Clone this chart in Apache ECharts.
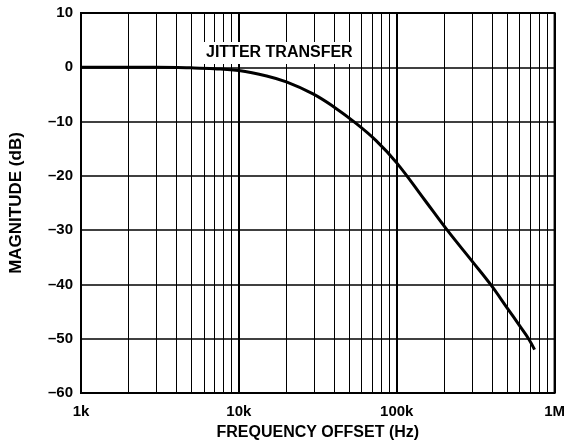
<!DOCTYPE html>
<html>
<head>
<meta charset="utf-8">
<script src="https://cdn.jsdelivr.net/npm/echarts@6/dist/echarts.min.js"></script>
<style>
html,body{margin:0;padding:0;background:#fff;}
#c{width:568px;height:448px;}
</style>
</head>
<body>
<div id="c"></div>
<script>
// Data
const freqHz = [1000, 2000, 3000, 5000, 7000, 10000, 15000, 20000, 29500, 40000, 54000, 74000, 100000, 150000, 209000, 300000, 393000, 500000, 600000, 684000, 747000];
const magnitudeDb = [0, 0, 0, -0.1, -0.25, -0.6, -1.6, -2.7, -4.9, -7.3, -10.1, -13.5, -17.6, -24.4, -30, -35.7, -40, -44.3, -47.6, -50, -52];
const xTickValues = [1000, 10000, 100000, 1000000];
const xTickLabels = ['1k', '10k', '100k', '1M'];
const minorGridValues = [2000,3000,4000,5000,6000,7000,8000,9000,20000,30000,40000,50000,60000,70000,80000,90000,200000,300000,400000,500000,600000,700000,800000,900000];
const seriesName = 'JITTER TRANSFER';

const FONT = '"Liberation Sans", Arial, sans-serif';
const chart = echarts.init(document.getElementById('c'), null, {renderer: 'canvas'});
chart.setOption({
  animation: false,
  backgroundColor: '#fff',
  grid: {left: 80, right: 12, top: 13, bottom: 55, show: true, borderColor: '#000', borderWidth: 2, backgroundColor: 'transparent', z: 3},
  xAxis: {
    type: 'log', logBase: 10, min: 1000, max: 1000000,
    name: 'FREQUENCY OFFSET (Hz)', nameLocation: 'middle', nameGap: 32,
    nameTextStyle: {fontFamily: FONT, fontWeight: 'bold', fontSize: 16, color: '#000'},
    axisLine: {show: false}, axisTick: {show: false},
    axisLabel: {fontFamily: FONT, fontWeight: 'bold', fontSize: 15, color: '#000', margin: 11,
      formatter: v => { const i = xTickValues.indexOf(Math.round(v)); return i >= 0 ? xTickLabels[i] : ''; }},
    splitLine: {show: true, lineStyle: {color: '#000', width: 2}},
    minorTick: {show: false}, minorSplitLine: {show: false}
  },
  yAxis: {
    type: 'value', min: -60, max: 10, interval: 10,
    name: 'MAGNITUDE (dB)', nameLocation: 'middle', nameGap: 56, nameRotate: 90,
    nameTextStyle: {fontFamily: FONT, fontWeight: 'bold', fontSize: 17, color: '#000'},
    axisLine: {show: false}, axisTick: {show: false},
    axisLabel: {fontFamily: FONT, fontWeight: 'bold', fontSize: 15, color: '#000', margin: 8,
      formatter: v => v < 0 ? '\u2013' + Math.abs(v) : String(v)},
    splitLine: {show: true, lineStyle: {color: '#000', width: 1.5}}
  },
  graphic: [{
    type: 'text', left: 203, top: 42, z: 10,
    style: {text: seriesName, fontFamily: FONT, fontWeight: 'bold', fontSize: 16, fill: '#000',
      backgroundColor: '#fff', padding: [3, 7, 3, 3]}
  }],
  series: [
    {
      type: 'line', data: [], z: 1, silent: true,
      markLine: {symbol: 'none', silent: true, label: {show: false}, animation: false,
        lineStyle: {color: '#000', width: 1, type: 'solid'},
        data: minorGridValues.map(v => ({xAxis: v}))}
    },
    {
      name: seriesName, type: 'line', smooth: 0.4, symbol: 'none', z: 5,
      lineStyle: {color: '#000', width: 3},
      data: freqHz.map((f, i) => [f, magnitudeDb[i]])
    }
  ]
});
</script>
</body>
</html>
